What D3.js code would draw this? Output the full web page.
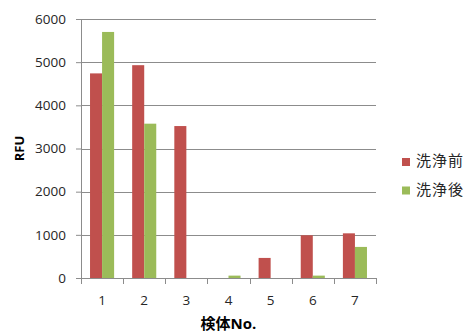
<!DOCTYPE html>
<html><head><meta charset="utf-8">
<script src="https://cdn.jsdelivr.net/npm/d3@7"></script>
<style>body{margin:0;background:#fff}svg{display:block}</style>
</head><body>
<script>
const categories = ["1","2","3","4","5","6","7"];
const seriesNames = ["洗浄前","洗浄後"];
const before = [4740, 4930, 3520, 0, 465, 990, 1035];
const after = [5700, 3575, 0, 55, 0, 55, 720];
const yTicks = [0,1000,2000,3000,4000,5000,6000];
const colors = ["#C0504D","#9BBB59"];

const W=467,H=333;
const m={left:81,right:91,top:19,bottom:55};
const svg=d3.select("body").append("svg").attr("width",W).attr("height",H);
const iw=W-m.left-m.right, ih=H-m.top-m.bottom;
const g=svg.append("g").attr("transform",`translate(${m.left},${m.top})`);
const x0=d3.scaleBand().domain(categories).range([0,iw]).padding(0);
const y=d3.scaleLinear().domain([0,6000]).range([ih,0]);
const font="'Open Sans', 'Noto Sans CJK JP', sans-serif";

// gridlines
g.selectAll("line.grid").data(yTicks.filter(d=>d>0)).join("line")
 .attr("x1",0).attr("x2",iw).attr("y1",d=>Math.round(y(d))+0.5).attr("y2",d=>Math.round(y(d))+0.5)
 .attr("stroke","#8c8c8c").attr("stroke-width",1);

// bars
const data=[before,after];
const bw=x0.bandwidth()/3.5;
const sub=d3.scaleBand().domain([0,1]).range([0,bw*2]);
data.forEach((vals,si)=>{
  g.selectAll(`rect.s${si}`).data(vals).join("rect")
   .attr("x",(d,i)=>x0(categories[i])+x0.bandwidth()/2-bw+sub(si))
   .attr("width",sub.bandwidth())
   .attr("y",d=>y(d)).attr("height",d=>ih-y(d))
   .attr("fill",colors[si]);
});

// y axis
const ya=g.append("g").call(d3.axisLeft(y).tickValues(yTicks).tickSize(5).tickPadding(10).tickFormat(d3.format("d")));
ya.select(".domain").attr("stroke","#8c8c8c").attr("d",`M0.5,${ih}V0`);
ya.selectAll(".tick line").attr("stroke","#8c8c8c");
ya.selectAll("text").attr("font-family",font).attr("font-size","13.5px").attr("fill","#262626");

// x axis
const xa=g.append("g").attr("transform",`translate(0,${ih})`);
xa.append("line").attr("x1",0).attr("x2",iw).attr("y1",0.5).attr("y2",0.5).attr("stroke","#8c8c8c");
const bounds=categories.map(c=>x0(c)).concat([iw]);
xa.selectAll("line.tk").data(bounds).join("line").attr("class","tk")
 .attr("x1",d=>Math.round(d)+0.5).attr("x2",d=>Math.round(d)+0.5).attr("y1",0).attr("y2",6).attr("stroke","#8c8c8c");
xa.selectAll("text").data(categories).join("text")
 .attr("x",d=>x0(d)+x0.bandwidth()/2).attr("y",27).attr("text-anchor","middle")
 .attr("font-family",font).attr("font-size","13.5px").attr("fill","#262626").text(d=>d);

// axis titles
svg.append("text").attr("transform",`translate(24,${m.top+ih/2}) rotate(-90)`)
 .attr("text-anchor","middle").attr("font-family",font).attr("font-size","13px").attr("font-weight","bold").attr("fill","#000").text("RFU");
svg.append("text").attr("x",m.left+iw/2).attr("y",329).attr("text-anchor","middle")
 .attr("font-family",font).attr("font-size","15px").attr("font-weight","bold").attr("fill","#000").text("検体No.");

// legend
const lg=svg.append("g");
seriesNames.forEach((n,i)=>{
  lg.append("rect").attr("x",402).attr("y",158+i*28.5).attr("width",8).attr("height",8).attr("fill",colors[i]);
  lg.append("text").attr("x",416).attr("y",166+i*28.5).attr("font-family",font).attr("font-size","15px").attr("letter-spacing","1px").attr("fill","#262626").text(n);
});
</script>
</body></html>
